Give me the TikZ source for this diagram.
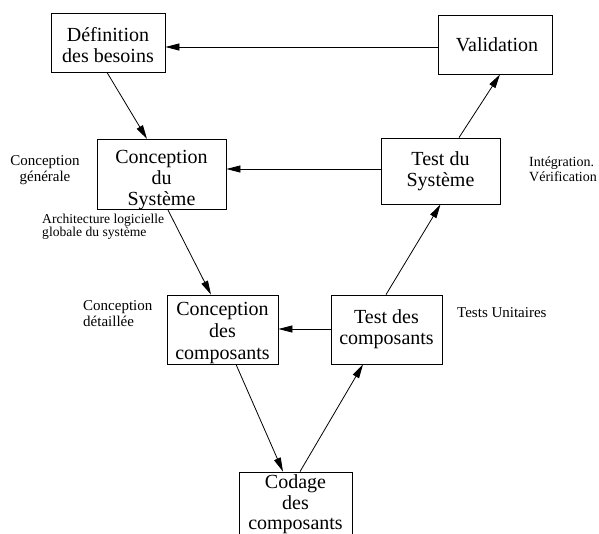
\documentclass[tikz,border=0pt]{standalone}
\usepackage{fontspec}
\setmainfont{Liberation Serif}
\usetikzlibrary{arrows.meta}
\tikzset{
  boxnode/.style={draw, line width=0.8pt, inner sep=0pt, align=center,
    font=\fontsize{20}{21}\selectfont},
  arr/.style={-{Triangle[length=14pt,width=7pt]}, line width=0.8pt},
  note/.style={inner sep=0pt, font=\fontsize{15}{16}\selectfont}
}
\newcommand\toppad[1]{\rule{0pt}{#1}}
\begin{document}
\begin{tikzpicture}[x=1pt,y=-1pt]
\useasboundingbox (0,0) rectangle (599,533);
\clip (0,0) rectangle (599,533);
\node[boxnode, minimum width=114pt, minimum height=59pt] (def) at (108,42.5) {\toppad{20pt}Définition\\des besoins};
\node[boxnode, minimum width=114pt, minimum height=59pt] (val) at (495,44.5) {\hspace*{4pt}Validation};
\node[boxnode, minimum width=129pt, minimum height=65pt] (cs) at (161.5,174.5) {\toppad{24pt}Conception\\du\\Système};
\node[boxnode, minimum width=119pt, minimum height=66pt] (ts) at (440.5,171) {Test du\\Système};
\node[boxnode, minimum width=111pt, minimum height=69pt, font=\fontsize{20}{22}\selectfont] (cc) at (222.5,329.5) {\toppad{20pt}Conception\\des\\composants};
\node[boxnode, minimum width=111pt, minimum height=69pt] (tc) at (386.5,329.5) {Test des\\composants};
\node[boxnode, minimum width=113pt, minimum height=63pt, font=\fontsize{20}{20.5}\selectfont] (cod) at (295.5,503.5) {\toppad{16pt}Codage\\des\\composants};

\node[note, align=center, anchor=north] (lcg) at (45,155) {Conception\\générale};
\node[note, align=left, anchor=north west, font=\fontsize{13.6}{11.5}\selectfont] (larch) at (42,213.7) {Architecture logicielle\\globale du système};
\node[note, align=left, anchor=north west] (lcd) at (83,300.8) {Conception\\détaillée};
\node[note, align=left, anchor=north west, font=\fontsize{14}{15}\selectfont] (lint) at (529,156.4) {Intégration.\\Vérification};
\node[note, anchor=base west] (ltu) at (457,317) {Tests Unitaires};

\draw[arr] (val.west |- 0,47) -- (def.east |- 0,47);
\draw[arr] (ts.west |- 0,169) -- (cs.east |- 0,169);
\draw[arr] (tc.west |- 0,329) -- (cc.east |- 0,329);

\draw[arr] ([xshift=-1pt]def.south) -- ([xshift=-14.5pt]cs.north);
\draw[arr] ([xshift=6.5pt]cs.south) -- ([xshift=-11.5pt]cc.north);
\draw[arr] ([xshift=13.5pt]cc.south) -- ([xshift=-12.5pt]cod.north);
\draw[arr] ([xshift=4.5pt]cod.north) -- ([xshift=-23.5pt]tc.south);
\draw[arr] ([xshift=-0.5pt]tc.north) -- (ts.south);
\draw[arr] ([xshift=18.5pt]ts.north) -- ([xshift=5pt]val.south);
\end{tikzpicture}
\end{document}
